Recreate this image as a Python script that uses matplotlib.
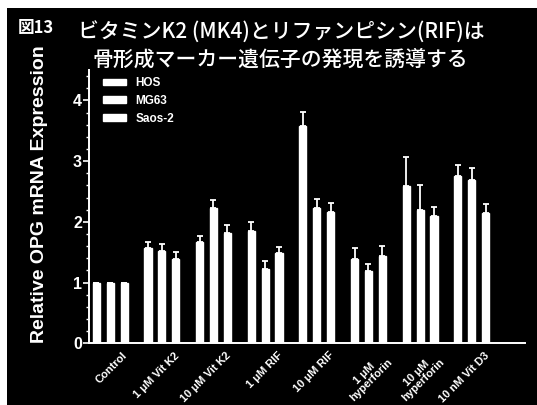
import matplotlib
matplotlib.use("Agg")
import matplotlib.pyplot as plt
from matplotlib.patches import Rectangle
from matplotlib.ticker import MultipleLocator
from matplotlib.transforms import ScaledTranslation
import numpy as np

plt.rcParams['font.family'] = ['Liberation Sans', 'Noto Sans CJK JP', 'DejaVu Sans']

categories = ["Control", "1 μM Vit K2", "10 μM Vit K2", "1 μM RIF", "10 μM RIF",
              "1 μM\nhyperforin", "10 μM\nhyperforin", "10 nM Vit D3"]
series = ["HOS", "MG63", "Saos-2"]
hos = [1.0, 1.57, 1.67, 1.85, 3.58, 1.39, 2.59, 2.75]
mg63 = [1.0, 1.52, 2.23, 1.23, 2.22, 1.19, 2.20, 2.69]
saos2 = [1.0, 1.38, 1.81, 1.48, 2.16, 1.43, 2.09, 2.14]
hos_err = [0.0, 0.10, 0.10, 0.14, 0.23, 0.18, 0.48, 0.19]
mg63_err = [0.0, 0.12, 0.13, 0.12, 0.16, 0.12, 0.40, 0.19]
saos2_err = [0.0, 0.13, 0.14, 0.10, 0.15, 0.17, 0.16, 0.16]

fig = plt.figure(figsize=(5.37, 4.05), dpi=100, facecolor="white")
# black panel with a thin white margin on the top and left
fig.patches.append(Rectangle((7 / 537, 0), 1, 1 - 8 / 405, transform=fig.transFigure,
                             facecolor="black", edgecolor="none", zorder=-10))

ax = fig.add_axes([89 / 537, 1 - 343.3 / 405, (525 - 89) / 537, (343.3 - 70) / 405])
ax.set_facecolor("black")

x = np.arange(len(categories))
offset = 0.27
width = 0.14
values = [hos, mg63, saos2]
errors = [hos_err, mg63_err, saos2_err]
for i, (name, vals, errs) in enumerate(zip(series, values, errors)):
    pos = x + (i - 1) * offset
    ax.bar(pos, vals, width=width, color="white", edgecolor="white", label=name, zorder=2)
    ax.errorbar(pos, vals, yerr=[np.zeros(len(vals)), errs], fmt="none",
                ecolor="white", elinewidth=1.3, capsize=2.5, capthick=1.3, zorder=3)

ax.set_xlim(-0.41, 8.03)
ax.set_ylim(0, 4.5)
ax.yaxis.set_major_locator(MultipleLocator(1))
ax.yaxis.set_minor_locator(MultipleLocator(0.2))

for side in ("top", "right"):
    ax.spines[side].set_visible(False)
for side in ("left", "bottom"):
    ax.spines[side].set_color("white")
    ax.spines[side].set_linewidth(1.4)

ax.tick_params(axis="y", colors="white", length=4, width=1.2, labelsize=11.5, pad=1)
ax.tick_params(axis="y", which="minor", colors="white", length=2, width=1)
for lbl in ax.get_yticklabels():
    lbl.set_fontweight("bold")

ax.set_xticks(x)
ax.set_xticklabels(categories, rotation=45, ha="right", rotation_mode="anchor",
                   fontsize=8, fontweight="bold", color="white", linespacing=1.0,
                   multialignment="center")
ax.tick_params(axis="x", length=0, pad=5)
shift = ScaledTranslation(12 / 100, 0, fig.dpi_scale_trans)
for lbl in ax.get_xticklabels():
    lbl.set_transform(lbl.get_transform() + shift)

ax.set_ylabel("Relative OPG mRNA Expression", color="white", fontsize=14,
              fontweight="bold")
ax.yaxis.set_label_coords(-0.094, 0.546)

leg = ax.legend(loc="upper left", bbox_to_anchor=(0.015, 1.0), frameon=False,
                fontsize=8.5, handlelength=2.0, handleheight=0.5, handletextpad=0.8,
                labelspacing=0.5, borderaxespad=0.2)
for t in leg.get_texts():
    t.set_color("white")
    t.set_fontweight("bold")

title_font = ['Noto Sans CJK JP', 'DejaVu Sans']
fig.text(18 / 537, 1 - 28 / 405, "図13", color="white", fontsize=12, fontweight="bold",
         family=title_font, va="center", ha="left")
fig.text(281 / 537, 1 - 33 / 405, "ビタミンK2 (MK4)とリファンピシン(RIF)は", color="white",
         fontsize=15, fontweight="medium", family=title_font, va="center", ha="center")
fig.text(280 / 537, 1 - 60 / 405, "骨形成マーカー遺伝子の発現を誘導する", color="white",
         fontsize=15, fontweight="medium", family=title_font, va="center", ha="center")

fig.savefig("out.png", dpi=100, facecolor=fig.get_facecolor())
